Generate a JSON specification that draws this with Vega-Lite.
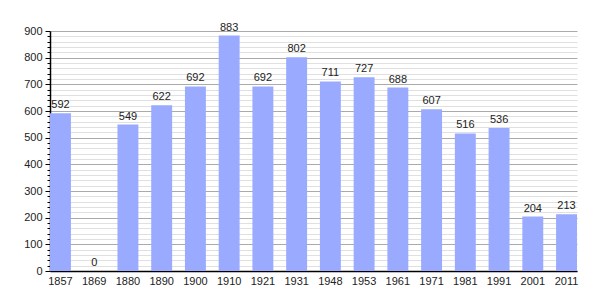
{
  "$schema": "https://vega.github.io/schema/vega-lite/v6.json",
  "width": 527,
  "height": 240,
  "autosize": {"type": "none"},
  "padding": {"left": 50, "top": 31, "right": 28, "bottom": 29},
  "background": "white",
  "data": {"values": [
    {"year": "1857", "pop": 592},
    {"year": "1869", "pop": 0},
    {"year": "1880", "pop": 549},
    {"year": "1890", "pop": 622},
    {"year": "1900", "pop": 692},
    {"year": "1910", "pop": 883},
    {"year": "1921", "pop": 692},
    {"year": "1931", "pop": 802},
    {"year": "1948", "pop": 711},
    {"year": "1953", "pop": 727},
    {"year": "1961", "pop": 688},
    {"year": "1971", "pop": 607},
    {"year": "1981", "pop": 516},
    {"year": "1991", "pop": 536},
    {"year": "2001", "pop": 204},
    {"year": "2011", "pop": 213}
  ]},
  "config": {
    "view": {"stroke": null},
    "font": "Liberation Sans"
  },
  "encoding": {
    "x": {
      "field": "year", "type": "ordinal", "sort": null,
      "scale": {"paddingInner": 0.38, "paddingOuter": 0},
      "axis": {
        "title": null, "labelAngle": 0, "labelFontSize": 11, "labelColor": "#222",
        "domainColor": "#000", "domainWidth": 1.5, "ticks": false, "labelPadding": 4
      }
    },
    "y": {
      "field": "pop", "type": "quantitative",
      "scale": {"domain": [0, 900], "nice": false},
      "axis": {
        "title": null,
        "values": [0,20,40,60,80,100,120,140,160,180,200,220,240,260,280,300,320,340,360,380,400,420,440,460,480,500,520,540,560,580,600,620,640,660,680,700,720,740,760,780,800,820,840,860,880,900],
        "labelExpr": "datum.value % 100 === 0 ? datum.label : ''",
        "labelFontSize": 11, "labelColor": "#222", "labelPadding": 3,
        "domainColor": "#000", "domainWidth": 1.5,
        "tickColor": "#000",
        "tickSize": {"condition": {"test": "datum.value % 100 === 0", "value": 5}, "value": 3},
        "gridColor": {"condition": {"test": "datum.value % 100 === 0", "value": "#aaaaaa"}, "value": "#e0e0e0"},
        "gridWidth": 1
      }
    }
  },
  "layer": [
    {"mark": {"type": "bar", "color": "#99aaff"}},
    {
      "mark": {"type": "text", "baseline": "bottom", "dy": -3, "fontSize": 11, "color": "#222"},
      "encoding": {"text": {"field": "pop", "type": "quantitative"}}
    }
  ]
}
